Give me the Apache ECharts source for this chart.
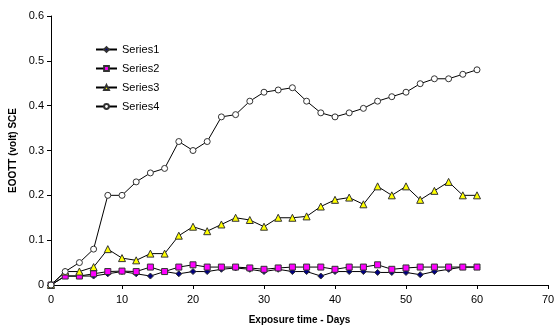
<!DOCTYPE html>
<html>
<head>
<meta charset="utf-8">
<script src="https://cdn.jsdelivr.net/npm/echarts@6/dist/echarts.min.js"></script>
<style>html,body{margin:0;padding:0;background:#fff}#c{width:555px;height:326px}</style>
</head>
<body>
<div id="c"></div>
<script>
var days = [0,2,4,6,8,10,12,14,16,18,20,22,24,26,28,30,32,34,36,38,40,42,44,46,48,50,52,54,56,58,60];
var series1 = [0,0.02,0.02,0.02,0.025,0.03,0.025,0.02,0.03,0.025,0.03,0.03,0.035,0.038,0.035,0.03,0.035,0.03,0.03,0.02,0.03,0.03,0.03,0.028,0.028,0.028,0.023,0.03,0.035,0.04,0.04];
var series2 = [0,0.02,0.02,0.025,0.03,0.031,0.03,0.04,0.03,0.04,0.045,0.04,0.04,0.04,0.038,0.035,0.038,0.04,0.04,0.04,0.035,0.04,0.04,0.045,0.035,0.038,0.04,0.04,0.04,0.04,0.04];
var series3 = [0,0.03,0.03,0.04,0.08,0.06,0.055,0.07,0.07,0.11,0.13,0.12,0.135,0.15,0.145,0.13,0.15,0.15,0.153,0.175,0.19,0.195,0.18,0.22,0.2,0.22,0.19,0.21,0.23,0.2,0.2];
var series4 = [0,0.03,0.05,0.08,0.2,0.2,0.23,0.25,0.26,0.32,0.3,0.32,0.375,0.38,0.41,0.43,0.435,0.44,0.41,0.384,0.375,0.384,0.394,0.41,0.42,0.43,0.449,0.46,0.46,0.47,0.48];
var names = ['Series1','Series2','Series3','Series4'];
var xTicks = [0,10,20,30,40,50,60,70];
var yTicks = [0,0.1,0.2,0.3,0.4,0.5,0.6];

function pairs(v){ return days.map(function(d,i){ return [d, v[i]]; }); }
var font = 'Liberation Sans, Arial, sans-serif';
function mk(name, data, symbol, size, color){
  return {
    name: name, type: 'line', data: pairs(data), symbol: symbol, symbolSize: size,
    lineStyle: {color: '#000', width: 1},
    itemStyle: {color: color, borderColor: '#333', borderWidth: 1},
    emphasis: {disabled: true}, animation: false
  };
}
var chart = echarts.init(document.getElementById('c'));
chart.setOption({
  animation: false,
  backgroundColor: '#fff',
  grid: {left: 51, right: 7, top: 16, bottom: 41, containLabel: false, outerBoundsMode: 'none'},
  legend: {
    orient: 'vertical', left: 95, top: 44, padding: 0, itemGap: 8, itemWidth: 21, itemHeight: 6,
    textStyle: {fontFamily: font, fontSize: 11, color: '#000'},
    data: names
  },
  xAxis: {
    type: 'value', min: 0, max: 70, interval: 10,
    axisLine: {lineStyle: {color: '#000', width: 1}},
    axisTick: {show: true, length: 4, lineStyle: {color: '#000'}},
    axisLabel: {fontFamily: font, fontSize: 11, color: '#000', margin: 9},
    splitLine: {show: false},
    name: 'Exposure time - Days', nameLocation: 'middle', nameGap: 30,
    nameTextStyle: {fontFamily: font, fontSize: 10, fontWeight: 'bold', color: '#000'}
  },
  yAxis: {
    type: 'value', min: 0, max: 0.6, interval: 0.1,
    axisLine: {show: true, lineStyle: {color: '#000', width: 1}},
    axisTick: {show: true, length: 4, lineStyle: {color: '#000'}},
    axisLabel: {fontFamily: font, fontSize: 11, color: '#000', margin: 7},
    splitLine: {show: false},
    name: 'EOOTT (volt) SCE', nameLocation: 'middle', nameGap: 27,
    nameTextStyle: {fontFamily: font, fontSize: 10, fontWeight: 'bold', color: '#000'}
  },
  series: [
    mk('Series1', series1, 'diamond', 6, '#000080'),
    mk('Series2', series2, 'rect', 6, '#ff00ff'),
    mk('Series3', series3, 'triangle', 7, '#ffff00'),
    mk('Series4', series4, 'circle', 6, '#fff')
  ]
});
</script>
</body>
</html>
